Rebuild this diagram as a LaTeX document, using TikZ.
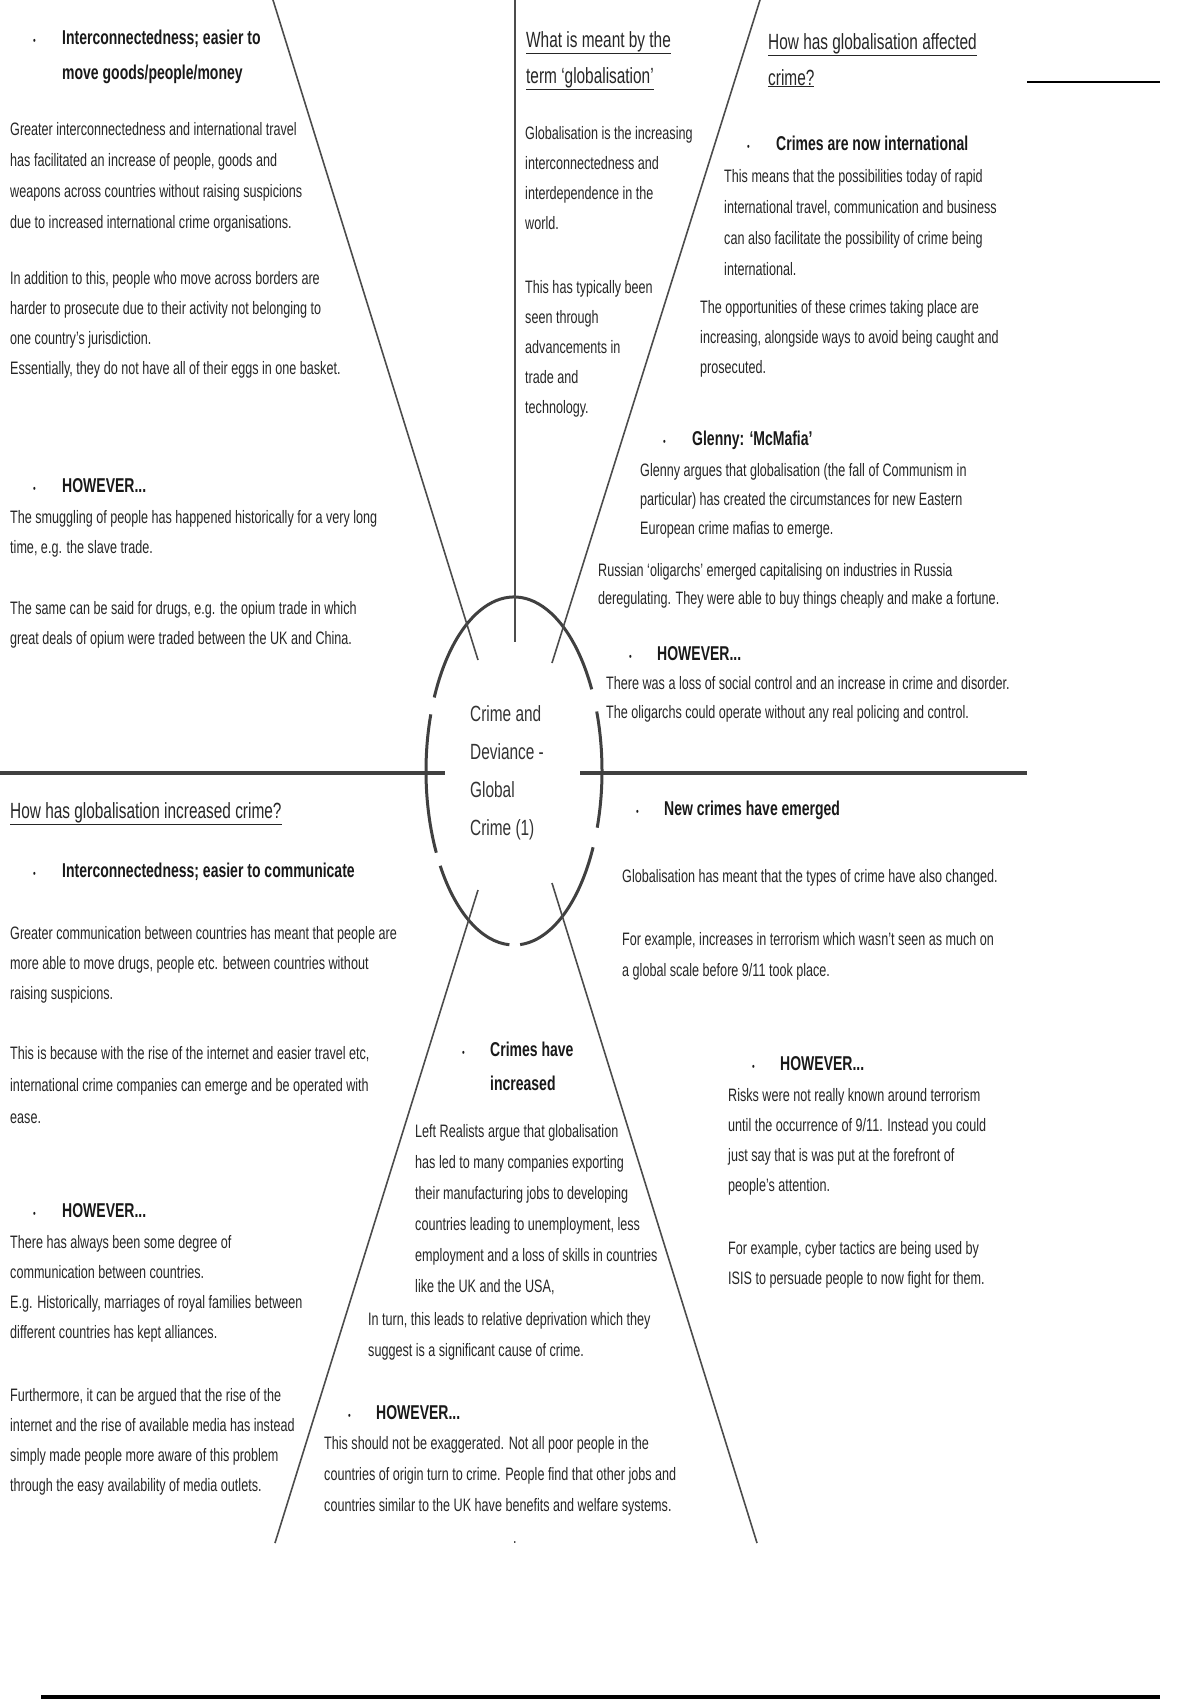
\documentclass[tikz,border=0pt]{standalone}
\usepackage{fontspec}
\setmainfont{Liberation Sans}[FakeStretch=0.7]
\begin{document}
\begin{tikzpicture}[x=1pt,y=-1pt,
bodytext/.style={anchor=base west, inner sep=0pt, align=left, text=black!85, font=\fontsize{18}{30}\selectfont},
keypoint/.style={anchor=base west, inner sep=0pt, align=left, text=black!90, font=\fontsize{20}{35}\selectfont\bfseries},
heading/.style={anchor=base west, inner sep=0pt, align=left, text=black!85, font=\fontsize{22}{36}\selectfont},
bulletmark/.style={anchor=base west, inner sep=0pt, text=black!90, font=\fontsize{11}{11}\selectfont},
spoke/.style={draw=black!70, line width=1.6pt},
divider/.style={draw=black!75, line width=3.5pt},
ring/.style={draw=black!75, line width=3pt}
]
    \useasboundingbox (0,0) rectangle (1200,1700);

    % centre ring (multi-line nodes sit on their last baseline)
    \coordinate (ctr) at (514,771);
    \draw [ring] (ctr) ++(340:88 and 174) arc[start angle=340, end angle=379, x radius=88, y radius=174];
    \draw [ring] (ctr) ++(26:88 and 174) arc[start angle=26, end angle=86, x radius=88, y radius=174];
    \draw [ring] (ctr) ++(93:88 and 174) arc[start angle=93, end angle=147, x radius=88, y radius=174];
    \draw [ring] (ctr) ++(152:88 and 174) arc[start angle=152, end angle=199, x radius=88, y radius=174];
    \draw [ring] (ctr) ++(205:88 and 174) arc[start angle=205, end angle=332, x radius=88, y radius=174];

    \node [anchor=base west, inner sep=0pt, align=left, text=black!80, font=\fontsize{22}{38}\selectfont] (title) at (470,835) {Crime and\\Deviance -\\Global\\Crime (1)};

    % spokes
    \coordinate (vt) at (515,0);     \coordinate (vb) at (515,642);
    \coordinate (ult) at (273,0);    \coordinate (ulb) at (478,660);
    \coordinate (urt) at (760,0);    \coordinate (urb) at (552,663);
    \coordinate (hl1) at (0,773);    \coordinate (hl2) at (445,773);
    \coordinate (hr1) at (580,773);  \coordinate (hr2) at (1027,773);
    \coordinate (llt) at (478,890);  \coordinate (llb) at (275,1543);
    \coordinate (lrt) at (552,883);  \coordinate (lrb) at (757,1543);
    \coordinate (sm1) at (1027,82);  \coordinate (sm2) at (1160,82);
    \coordinate (bt1) at (41,1697);  \coordinate (bt2) at (1160,1697);

    \draw [spoke] (vt) -- (vb);
    \draw [spoke] (ult) -- (ulb);
    \draw [spoke] (urt) -- (urb);
    \draw [spoke] (llt) -- (llb);
    \draw [spoke] (lrt) -- (lrb);
    \draw [divider] (hl1) -- (hl2);
    \draw [divider] (hr1) -- (hr2);
    \draw [draw=black, line width=2.8pt] (sm1) -- (sm2);
    \draw [draw=black, line width=4pt] (bt1) -- (bt2);

    % top left
    \node [bulletmark] (tlb1) at (33,44) {\textbullet};
    \node [keypoint] (tlk1) at (62,79) {Interconnectedness; easier to\\move goods/people/money};
    \node [bodytext, font=\fontsize{18}{31}\selectfont] (tl1) at (10,228) {Greater interconnectedness and international travel\\has facilitated an increase of people, goods and\\weapons across countries without raising suspicions\\due to increased international crime organisations.};
    \node [bodytext] (tl2) at (10,374) {In addition to this, people who move across borders are\\harder to prosecute due to their activity not belonging to\\one country's jurisdiction.\\Essentially, they do not have all of their eggs in one basket.};
    \node [bulletmark] (tlb2) at (33,492) {\textbullet};
    \node [keypoint] (tlk2) at (62,492) {HOWEVER...};
    \node [bodytext] (tl3) at (10,553) {The smuggling of people has happened historically for a very long\\time, e.g. the slave trade.};
    \node [bodytext] (tl4) at (10,644) {The same can be said for drugs, e.g. the opium trade in which\\great deals of opium were traded between the UK and China.};

    % top middle
    \node [heading] (tmh) at (526,83) {\underline{What is meant by the}\\\underline{term ‘globalisation’}};
    \node [bodytext] (tm1) at (525,229) {Globalisation is the increasing\\interconnectedness and\\interdependence in the\\world.};
    \node [bodytext] (tm2) at (525,413) {This has typically been\\seen through\\advancements in\\trade and\\technology.};

    % top right
    \node [heading] (trh) at (768,85) {\underline{How has globalisation affected}\\\underline{crime?}};
    \node [bulletmark] (trb1) at (747,150) {\textbullet};
    \node [keypoint] (trk1) at (776,150) {Crimes are now international};
    \node [bodytext, font=\fontsize{18}{31}\selectfont] (tr1) at (724,275) {This means that the possibilities today of rapid\\international travel, communication and business\\can also facilitate the possibility of crime being\\international.};
    \node [bodytext] (tr2) at (700,373) {The opportunities of these crimes taking place are\\increasing, alongside ways to avoid being caught and\\prosecuted.};
    \node [bulletmark] (trb2) at (663,445) {\textbullet};
    \node [keypoint] (trk2) at (692,445) {Glenny: ‘McMafia’};
    \node [bodytext, font=\fontsize{18}{29}\selectfont] (tr3) at (640,534) {Glenny argues that globalisation (the fall of Communism in\\particular) has created the circumstances for new Eastern\\European crime mafias to emerge.};
    \node [bodytext, font=\fontsize{18}{28}\selectfont] (tr4) at (598,604) {Russian ‘oligarchs’ emerged capitalising on industries in Russia\\deregulating. They were able to buy things cheaply and make a fortune.};
    \node [bulletmark] (trb3) at (629,660) {\textbullet};
    \node [keypoint] (trk3) at (657,660) {HOWEVER...};
    \node [bodytext, font=\fontsize{18}{29}\selectfont] (tr5) at (606,718) {There was a loss of social control and an increase in crime and disorder.\\The oligarchs could operate without any real policing and control.};

    % bottom left
    \node [heading] (blh) at (10,818) {\underline{How has globalisation increased crime?}};
    \node [bulletmark] (blb1) at (33,877) {\textbullet};
    \node [keypoint] (blk1) at (62,877) {Interconnectedness; easier to communicate};
    \node [bodytext] (bl1) at (10,999) {Greater communication between countries has meant that people are\\more able to move drugs, people etc. between countries without\\raising suspicions.};
    \node [bodytext, font=\fontsize{18}{32}\selectfont] (bl2) at (10,1123) {This is because with the rise of the internet and easier travel etc,\\international crime companies can emerge and be operated with\\ease.};
    \node [bulletmark] (blb2) at (33,1217) {\textbullet};
    \node [keypoint] (blk2) at (62,1217) {HOWEVER...};
    \node [bodytext] (bl3) at (10,1338) {There has always been some degree of\\communication between countries.\\E.g. Historically, marriages of royal families between\\different countries has kept alliances.};
    \node [bodytext] (bl4) at (10,1491) {Furthermore, it can be argued that the rise of the\\internet and the rise of available media has instead\\simply made people more aware of this problem\\through the easy availability of media outlets.};

    % bottom middle
    \node [bulletmark] (bmb1) at (462,1056) {\textbullet};
    \node [keypoint, font=\fontsize{20}{34}\selectfont\bfseries] (bmk1) at (490,1090) {Crimes have\\increased};
    \node [bodytext, font=\fontsize{18}{31}\selectfont] (bm1) at (415,1292) {Left Realists argue that globalisation\\has led to many companies exporting\\their manufacturing jobs to developing\\countries leading to unemployment, less\\employment and a loss of skills in countries\\like the UK and the USA,};
    \node [bodytext, font=\fontsize{18}{31}\selectfont] (bm2) at (368,1356) {In turn, this leads to relative deprivation which they\\suggest is a significant cause of crime.};
    \node [bulletmark] (bmb2) at (348,1419) {\textbullet};
    \node [keypoint] (bmk2) at (376,1419) {HOWEVER...};
    \node [bodytext, font=\fontsize{18}{31}\selectfont] (bm3) at (324,1511) {This should not be exaggerated. Not all poor people in the\\countries of origin turn to crime. People find that other jobs and\\countries similar to the UK have benefits and welfare systems.};
    \node [bodytext] (bmdot) at (513,1543) {.};

    % bottom right
    \node [bulletmark] (brb1) at (636,815) {\textbullet};
    \node [keypoint] (brk1) at (664,815) {New crimes have emerged};
    \node [bodytext] (br1) at (622,882) {Globalisation has meant that the types of crime have also changed.};
    \node [bodytext, font=\fontsize{18}{31}\selectfont] (br2) at (622,976) {For example, increases in terrorism which wasn't seen as much on\\a global scale before 9/11 took place.};
    \node [bulletmark] (brb2) at (752,1070) {\textbullet};
    \node [keypoint] (brk2) at (780,1070) {HOWEVER...};
    \node [bodytext] (br3) at (728,1191) {Risks were not really known around terrorism\\until the occurrence of 9/11. Instead you could\\just say that is was put at the forefront of\\people's attention.};
    \node [bodytext] (br4) at (728,1284) {For example, cyber tactics are being used by\\ISIS to persuade people to now fight for them.};
\end{tikzpicture}
\end{document}
